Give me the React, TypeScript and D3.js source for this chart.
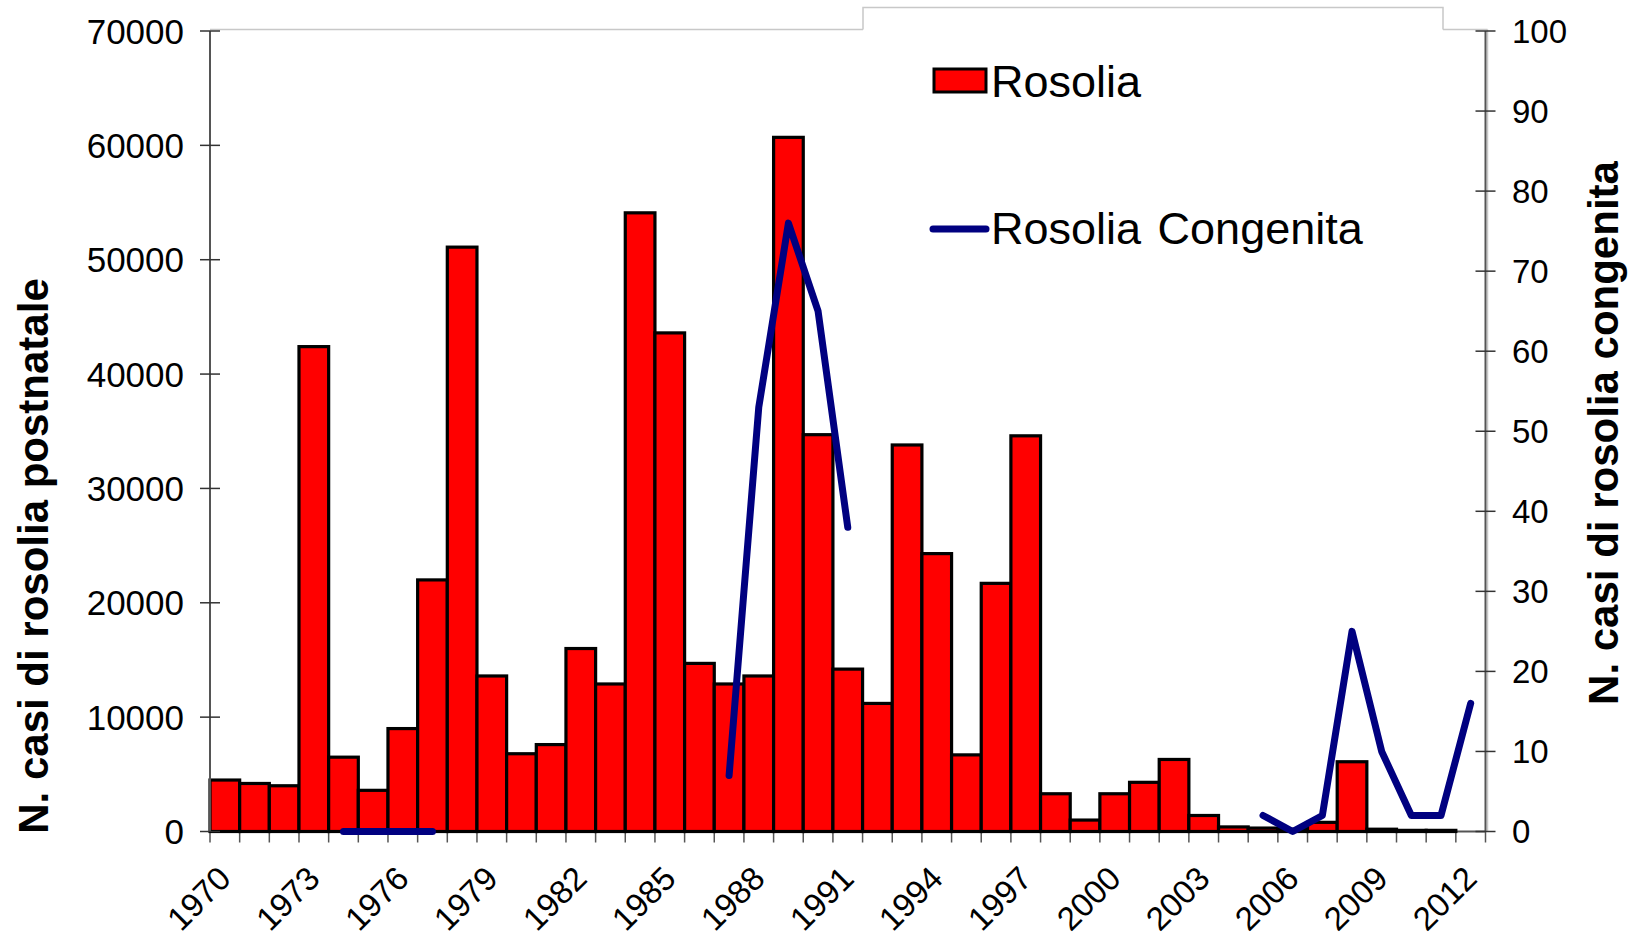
import React from "react";
import * as d3 from "d3";

const years = [
  "1970","1971","1972","1973","1974","1975","1976","1977","1978","1979",
  "1980","1981","1982","1983","1984","1985","1986","1987","1988","1989",
  "1990","1991","1992","1993","1994","1995","1996","1997","1998","1999",
  "2000","2001","2002","2003","2004","2005","2006","2007","2008","2009",
  "2010","2011","2012",
];
const rosolia = [
  4500, 4200, 4000, 42400, 6500, 3600, 9000, 22000, 51100, 13600,
  6800, 7600, 16000, 12900, 54100, 43600, 14700, 12900, 13600, 60700,
  34700, 14200, 11200, 33800, 24300, 6700, 21700, 34600, 3300, 1000,
  3300, 4300, 6300, 1400, 400, 300, 200, 800, 6100, 200,
  100, 100, 0,
];
const congenita: (number | null)[] = [
  null, null, null, null, 0, 0, 0, 0, null, null,
  null, null, null, null, null, null, null, 7, 53, 76,
  65, 38, null, null, null, null, null, null, null, null,
  null, null, null, null, null, 2, 0, 2, 25, 10,
  2, 2, 16,
];
const leftTicks = [0, 10000, 20000, 30000, 40000, 50000, 60000, 70000];
const rightTicks = [0, 10, 20, 30, 40, 50, 60, 70, 80, 90, 100];
const labelYears = ["1970","1973","1976","1979","1982","1985","1988","1991","1994","1997","2000","2003","2006","2009","2012"];

const W = 1629, H = 940;
const L = 210, R = 1485.5, T = 31, B = 831.5;
const FONT = "'Liberation Sans', Arial, sans-serif";

export default function App() {
  const x = d3.scaleBand<string>().domain(years).range([L, R]).padding(0);
  const yL = d3.scaleLinear().domain([0, 70000]).range([B, T]);
  const yR = d3.scaleLinear().domain([0, 100]).range([B, T]);
  const bw = x.bandwidth();

  const line = d3
    .line<number | null>()
    .defined((d) => d !== null)
    .x((_, i) => (x(years[i]) as number) + bw / 2)
    .y((d) => yR(d as number));

  const boundaries = years.map((y) => x(y) as number).concat([R]);

  const legX = 863, legR = 1443, legT = 7.5;
  const border = "#c8c8c8";

  return (
    <svg
      width={W}
      height={H}
      style={{ position: "absolute", left: 0, top: 0, background: "#fff" }}
      fontFamily={FONT}
    >
      <rect x={0} y={0} width={W} height={H} fill="#fff" />
      {/* plot area border */}
      <line x1={L} x2={legX} y1={T - 1.5} y2={T - 1.5} stroke={border} strokeWidth={1.5} />
      <line x1={legR} x2={R + 2} y1={T - 1.5} y2={T - 1.5} stroke={border} strokeWidth={1.5} />
      <line x1={R + 2} x2={R + 2} y1={T - 1.5} y2={B} stroke={border} strokeWidth={1.5} />
      {/* legend box outline */}
      <path
        d={`M${legX},${T - 1.5}V${legT}H${legR}V${T - 1.5}`}
        fill="none"
        stroke={border}
        strokeWidth={1.5}
      />

      {/* x axis */}
      <line x1={L} x2={R} y1={B} y2={B} stroke="#555" strokeWidth={2} />
      {boundaries.map((bx, i) => (
        <line key={i} x1={bx} x2={bx} y1={B} y2={B + 11} stroke="#555" strokeWidth={1.5} />
      ))}

      {/* bars */}
      {rosolia.map((v, i) =>
        v > 0 ? (
          <rect
            key={i}
            x={x(years[i]) as number}
            y={yL(v)}
            width={bw}
            height={B - yL(v)}
            fill="#ff0000"
            stroke="#000"
            strokeWidth={3.2}
          />
        ) : null
      )}

      {/* left axis */}
      <line x1={L} x2={L} y1={T} y2={B} stroke="#555" strokeWidth={2} />
      {leftTicks.map((t) => (
        <g key={t}>
          <line x1={L - 10} x2={L + 10} y1={yL(t)} y2={yL(t)} stroke="#333" strokeWidth={1.5} />
          <text
            x={184}
            y={yL(t)}
            textAnchor="end"
            dominantBaseline="central"
            fontSize={35}
            fill="#000"
          >
            {t}
          </text>
        </g>
      ))}

      {/* right axis */}
      <line x1={R} x2={R} y1={T} y2={B} stroke="#555" strokeWidth={2} />
      {rightTicks.map((t) => (
        <g key={t}>
          <line x1={R - 10} x2={R + 10} y1={yR(t)} y2={yR(t)} stroke="#333" strokeWidth={1.5} />
          <text
            x={1512}
            y={yR(t)}
            textAnchor="start"
            dominantBaseline="central"
            fontSize={33}
            fill="#000"
          >
            {t}
          </text>
        </g>
      ))}

      {/* congenital line */}
      <path
        d={line(congenita) || ""}
        fill="none"
        stroke="#000080"
        strokeWidth={7}
        strokeLinejoin="round"
        strokeLinecap="round"
      />

      {/* x labels */}
      {labelYears.map((y) => {
        const cx = (x(y) as number) + bw / 2 + 8;
        const cy = B + 49;
        return (
          <text
            key={y}
            x={cx}
            y={cy}
            textAnchor="end"
            fontSize={33}
            fill="#000"
            transform={`rotate(-45, ${cx}, ${cy})`}
          >
            {y}
          </text>
        );
      })}

      {/* axis titles */}
      <text
        transform={`translate(48, 556) rotate(-90)`}
        textAnchor="middle"
        fontSize={42}
        fontWeight="bold"
        fill="#000"
      >
        N. casi di rosolia postnatale
      </text>
      <text
        transform={`translate(1618, 433) rotate(-90)`}
        textAnchor="middle"
        fontSize={42}
        fontWeight="bold"
        fill="#000"
      >
        N. casi di rosolia congenita
      </text>

      {/* legend */}
      <rect x={934} y={69} width={52} height={23} fill="#ff0000" stroke="#000" strokeWidth={3} />
      <text x={991} y={97} fontSize={45} fill="#000">
        Rosolia
      </text>
      <line x1={933} x2={986} y1={229} y2={229} stroke="#000080" strokeWidth={7} strokeLinecap="round" />
      <text x={991} y={244} fontSize={45} fill="#000" wordSpacing={4}>
        Rosolia Congenita
      </text>
    </svg>
  );
}
